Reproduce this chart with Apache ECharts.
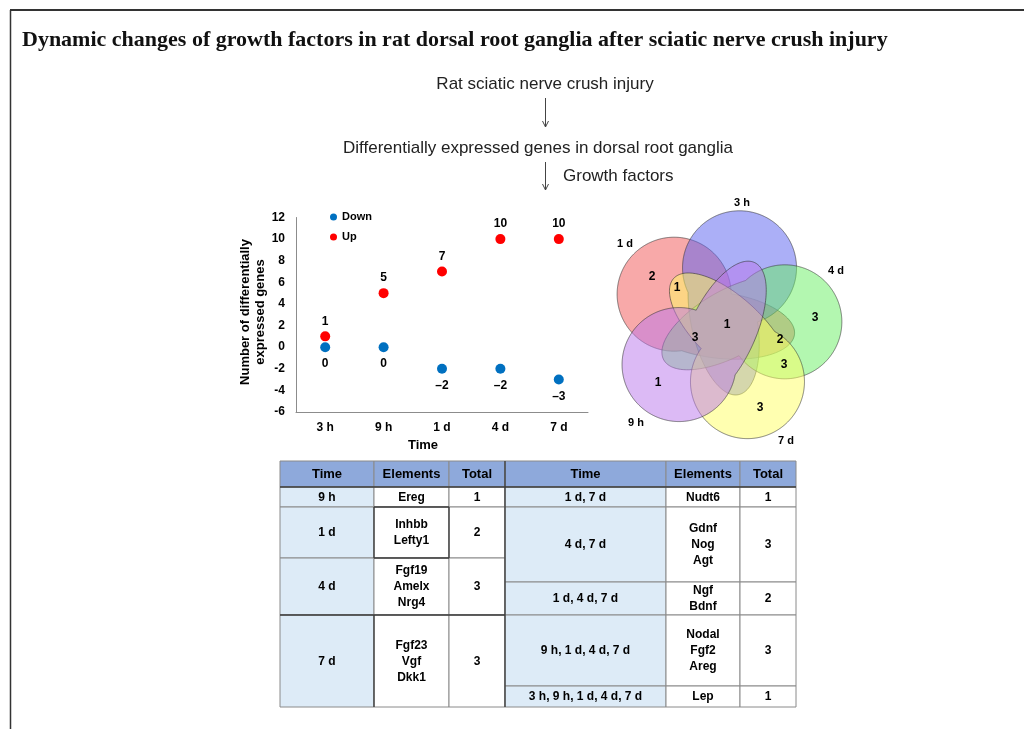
<!DOCTYPE html>
<html>
<head>
<meta charset="utf-8">
<script src="https://cdn.jsdelivr.net/npm/echarts@6.0.0/dist/echarts.min.js"></script>
<style>
  html, body { margin: 0; padding: 0; background: #fff; }
  #main { width: 1024px; height: 729px; }
</style>
</head>
<body>
<div id="main"></div>
<script>
// scatter data
var times = ['3 h', '9 h', '1 d', '4 d', '7 d'];
var downValues = [0, 0, -2, -2, -3];
var upValues = [1, 5, 7, 10, 10];

// venn sets (draw order) and region counts
var vennSets = ['1 d', '3 h', '4 d', '7 d', '9 h'];
var vennRegions = ['9 h', '1 d', '4 d', '7 d', '1 d, 7 d', '4 d, 7 d', '1 d, 4 d, 7 d', '9 h, 1 d, 4 d, 7 d', '3 h, 9 h, 1 d, 4 d, 7 d'];
var vennCounts = [1, 2, 3, 3, 1, 3, 2, 3, 1];

// table
var headers = ['Time', 'Elements', 'Total', 'Time', 'Elements', 'Total'];
var leftTimes = ['9 h', '1 d', '4 d', '7 d'];
var leftElements = [['Ereg'], ['Inhbb', 'Lefty1'], ['Fgf19', 'Amelx', 'Nrg4'], ['Fgf23', 'Vgf', 'Dkk1']];
var leftTotals = [1, 2, 3, 3];
var rightTimes = ['1 d, 7 d', '4 d, 7 d', '1 d, 4 d, 7 d', '9 h, 1 d, 4 d, 7 d', '3 h, 9 h, 1 d, 4 d, 7 d'];
var rightElements = [['Nudt6'], ['Gdnf', 'Nog', 'Agt'], ['Ngf', 'Bdnf'], ['Nodal', 'Fgf2', 'Areg'], ['Lep']];
var rightTotals = [1, 3, 2, 3, 1];

// ---- layout (positions / styles) ----
var SANS = '"Liberation Sans", Arial, sans-serif';
var vennCenter = [725, 326];
var vennAngle = { '1 d': 212, '3 h': -76, '4 d': -4, '7 d': 68, '9 h': 140 };
var vennColor = {
	'1 d': 'rgba(242,84,84,0.5)',
	'3 h': 'rgba(88,96,240,0.5)',
	'4 d': 'rgba(104,240,98,0.5)',
	'7 d': 'rgba(255,255,98,0.5)',
	'9 h': 'rgba(186,118,236,0.5)'
};
var vennSetLabelPos = { '3 h': [742, 203], '1 d': [625, 244], '4 d': [836, 271], '9 h': [636, 423], '7 d': [786, 441] };
var vennRegionPos = [[658, 383], [652, 277], [815, 318], [760, 408], [677, 288], [784, 365], [780, 340], [695, 338], [727, 325]];

var colX = [280, 374, 449, 505, 666, 740, 796];
var headY = [461, 487];
var leftRowY = [487, 507, 558, 615, 707];
var rightRowY = [487, 507, 582, 615, 686, 707];

var chart = echarts.init(document.getElementById('main'));
var g = [];

// frame
g.push({ type: 'line', shape: { x1: 10, y1: 10, x2: 1024, y2: 10 }, style: { stroke: '#333', lineWidth: 2 } });
g.push({ type: 'line', shape: { x1: 10.5, y1: 10, x2: 10.5, y2: 729 }, style: { stroke: '#333', lineWidth: 1.5 } });

// title and flow
g.push({ type: 'text', x: 22, y: 40, style: { text: 'Dynamic changes of growth factors in rat dorsal root ganglia after sciatic nerve crush injury', font: 'bold 22px "Liberation Serif", serif', fill: '#111', verticalAlign: 'middle' } });
var flowFont = '17px "Liberation Sans Narrow", "Liberation Sans", sans-serif';
g.push({ type: 'text', x: 545, y: 84, style: { text: 'Rat sciatic nerve crush injury', font: flowFont, fill: '#222', align: 'center', verticalAlign: 'middle' } });
g.push({ type: 'text', x: 538, y: 148, style: { text: 'Differentially expressed genes in dorsal root ganglia', font: flowFont, fill: '#222', align: 'center', verticalAlign: 'middle' } });
g.push({ type: 'text', x: 563, y: 176, style: { text: 'Growth factors', font: flowFont, fill: '#222', verticalAlign: 'middle' } });

function arrow(x, y0, y1) {
	g.push({ type: 'line', shape: { x1: x, y1: y0, x2: x, y2: y1 }, style: { stroke: '#444', lineWidth: 1 } });
	g.push({ type: 'polyline', shape: { points: [[x - 3, y1 - 6], [x, y1], [x + 3, y1 - 6]] }, style: { stroke: '#444', lineWidth: 1, fill: null } });
}
arrow(545.5, 98, 127);
arrow(545.5, 162, 190);

// y axis title, Time title
g.push({ type: 'text', x: 253, y: 312, rotation: Math.PI / 2, style: { text: 'Number of differentially\nexpressed genes', font: 'bold 13px ' + SANS, lineHeight: 15, fill: '#000', align: 'center', verticalAlign: 'middle' } });
g.push({ type: 'text', x: 423, y: 445, style: { text: 'Time', font: 'bold 13px ' + SANS, fill: '#000', align: 'center', verticalAlign: 'middle' } });

// venn shapes: circle + arm ellipse, union outline sampled from an inner point
function vennShape(name) {
	var D = 60, R = 57, a = 77, b = 33, off = -7, twist = 25;
	var phi = vennAngle[name] * Math.PI / 180;
	var cx = vennCenter[0] + D * Math.cos(phi), cy = vennCenter[1] + D * Math.sin(phi);
	var th = phi + Math.PI - twist * Math.PI / 180;
	var ct = Math.cos(th), st = Math.sin(th);
	var ex = vennCenter[0] + off * ct, ey = vennCenter[1] + off * st;
	var px = ex - 50 * ct, py = ey - 50 * st;
	var pts = [];
	for (var i = 0; i < 720; i++) {
		var al = i / 720 * Math.PI * 2;
		var dx = Math.cos(al), dy = Math.sin(al);
		var wx = px - cx, wy = py - cy;
		var bq = wx * dx + wy * dy, cq = wx * wx + wy * wy - R * R;
		var t1 = -bq + Math.sqrt(bq * bq - cq);
		var lx = (px - ex) * ct + (py - ey) * st, ly = -(px - ex) * st + (py - ey) * ct;
		var ldx = dx * ct + dy * st, ldy = -dx * st + dy * ct;
		var A = ldx * ldx / (a * a) + ldy * ldy / (b * b);
		var B = 2 * (lx * ldx / (a * a) + ly * ldy / (b * b));
		var C = lx * lx / (a * a) + ly * ly / (b * b) - 1;
		var t2 = (-B + Math.sqrt(B * B - 4 * A * C)) / (2 * A);
		var t = Math.max(t1, t2);
		pts.push([px + t * dx, py + t * dy]);
	}
	return pts;
}
for (var k = 0; k < vennSets.length; k++) {
	var s = vennSets[k];
	g.push({ type: 'polygon', shape: { points: vennShape(s) }, style: { fill: vennColor[s], stroke: 'rgba(50,50,50,0.75)', lineWidth: 0.8 } });
	g.push({ type: 'text', x: vennSetLabelPos[s][0], y: vennSetLabelPos[s][1], style: { text: s, font: 'bold 11px ' + SANS, fill: '#000', align: 'center', verticalAlign: 'middle' } });
}
for (var r = 0; r < vennCounts.length; r++) {
	g.push({ type: 'text', x: vennRegionPos[r][0], y: vennRegionPos[r][1], style: { text: String(vennCounts[r]), font: 'bold 12px ' + SANS, fill: '#000', align: 'center', verticalAlign: 'middle' } });
}

// table
function cell(x0, x1, y0, y1, fill, text, size) {
	g.push({ type: 'rect', shape: { x: x0, y: y0, width: x1 - x0, height: y1 - y0 }, style: { fill: fill, stroke: '#8a8a8a', lineWidth: 1 } });
	g.push({ type: 'text', x: (x0 + x1) / 2, y: (y0 + y1) / 2 + 0.5, style: { text: text, font: 'bold ' + (size || 12) + 'px ' + SANS, lineHeight: 16, fill: '#000', align: 'center', verticalAlign: 'middle' } });
}
for (var h = 0; h < headers.length; h++) {
	cell(colX[h], colX[h + 1], headY[0], headY[1], '#8EA9DB', headers[h], 13);
}
for (var i = 0; i < leftTimes.length; i++) {
	cell(colX[0], colX[1], leftRowY[i], leftRowY[i + 1], '#DDEBF7', leftTimes[i]);
	cell(colX[1], colX[2], leftRowY[i], leftRowY[i + 1], '#fff', leftElements[i].join('\n'));
	cell(colX[2], colX[3], leftRowY[i], leftRowY[i + 1], '#fff', String(leftTotals[i]));
}
for (var j = 0; j < rightTimes.length; j++) {
	cell(colX[3], colX[4], rightRowY[j], rightRowY[j + 1], '#DDEBF7', rightTimes[j]);
	cell(colX[4], colX[5], rightRowY[j], rightRowY[j + 1], '#fff', rightElements[j].join('\n'));
	cell(colX[5], colX[6], rightRowY[j], rightRowY[j + 1], '#fff', String(rightTotals[j]));
}
var darkLines = [
	[280, 487, 796, 487],
	[505, 461, 505, 707],
	[374, 507, 374, 558], [449, 507, 449, 558], [374, 507, 449, 507], [374, 558, 449, 558],
	[280, 615, 505, 615], [374, 615, 374, 707]
];
darkLines.forEach(function(l) {
	g.push({ type: 'line', shape: { x1: l[0], y1: l[1], x2: l[2], y2: l[3] }, style: { stroke: '#3c3c3c', lineWidth: 1.3 } });
});

var option = {
	backgroundColor: '#fff',
	animation: false,
	textStyle: { fontFamily: SANS },
	grid: { left: 296, top: 217.5, width: 292, height: 194.5 },
	legend: {
		data: ['Down', 'Up'],
		orient: 'vertical',
		left: 330,
		top: 210,
		padding: 0,
		itemGap: 6,
		itemWidth: 7,
		itemHeight: 7,
		icon: 'circle',
		textStyle: { fontSize: 11, fontWeight: 'bold', color: '#000', lineHeight: 14 }
	},
	xAxis: {
		type: 'category',
		data: times,
		axisLine: { onZero: false, lineStyle: { color: '#8c8c8c' } },
		axisTick: { show: false },
		axisLabel: { fontSize: 12, fontWeight: 'bold', color: '#000', margin: 10 }
	},
	yAxis: {
		type: 'value',
		min: -6,
		max: 12,
		interval: 2,
		axisLine: { show: true, lineStyle: { color: '#8c8c8c' } },
		axisTick: { show: false },
		splitLine: { show: false },
		axisLabel: { fontSize: 12, fontWeight: 'bold', color: '#000', margin: 11 }
	},
	series: [
		{
			name: 'Down',
			type: 'scatter',
			data: downValues,
			symbolSize: 10,
			itemStyle: { color: '#0070C0', opacity: 1 },
			label: {
				show: true, position: 'bottom', distance: 6,
				fontSize: 12, fontWeight: 'bold', color: '#000', opacity: 1,
				formatter: function(p) { return String(p.value).replace('-', '\u2013'); }
			}
		},
		{
			name: 'Up',
			type: 'scatter',
			data: upValues,
			symbolSize: 10,
			itemStyle: { color: '#FF0000', opacity: 1 },
			label: { show: true, position: 'top', distance: 4, fontSize: 12, fontWeight: 'bold', color: '#000', opacity: 1 }
		}
	],
	graphic: g
};
chart.setOption(option);
</script>
</body>
</html>
